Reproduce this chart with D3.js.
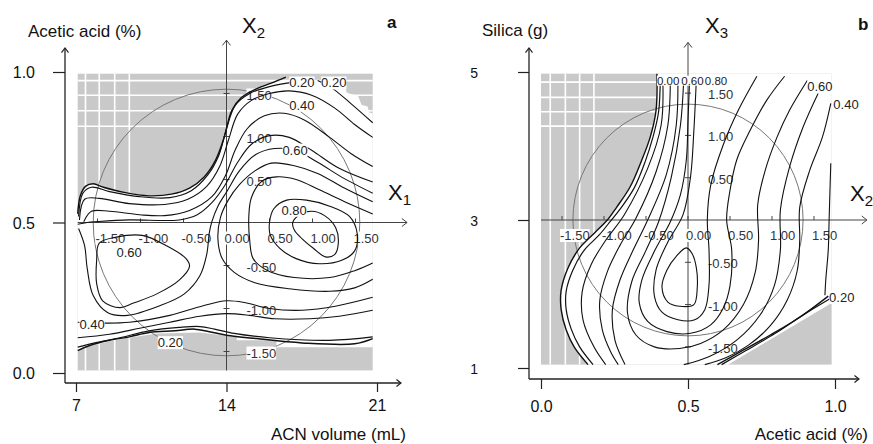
<!DOCTYPE html>
<html>
<head>
<meta charset="utf-8">
<script src="https://cdn.jsdelivr.net/npm/d3@7"></script>
<style>
  html, body { margin: 0; padding: 0; background: #fff; }
  svg { display: block; font-family: "Liberation Sans", Arial, sans-serif; }
</style>
</head>
<body>
<svg id="chart" width="873" height="444"></svg>
<script>
// ---------------- Panel a: ACN volume (X1) × acetic acid (X2), coded units ----------------
const acnTicks = [7, 14, 21];
const aceticTicksA = [0.0, 0.5, 1.0];
const codedTicksH = [-1.5, -1.0, -0.5, 0, 0.5, 1.0, 1.5];
const codedTicksV = [-1.5, -1.0, -0.5, 0.5, 1.0, 1.5];

// contour lines, [X1, X2] in coded units
const aTop1 = [[-1.73,0.10],[-1.70,0.31],[-1.64,0.42],[-1.55,0.45],[-1.43,0.41],[-1.19,0.35],[-0.90,0.31],[-0.64,0.33],[-0.43,0.40],[-0.26,0.53],[-0.13,0.72],[-0.03,0.98],[0.06,1.30],[0.17,1.45],[0.36,1.56],[0.52,1.62],[0.69,1.69]];
const aTop1b = [[-1.72,0.07],[-1.67,0.34],[-1.57,0.41],[-1.36,0.36],[-1.01,0.30],[-0.66,0.29],[-0.41,0.37],[-0.22,0.55],[-0.09,0.78],[0,1.09],[0.10,1.36],[0.27,1.50],[0.50,1.58],[0.83,1.64]];
const aTop2 = [[-1.71,0.03],[-1.65,0.27],[-1.48,0.28],[-1.13,0.22],[-0.72,0.21],[-0.45,0.27],[-0.23,0.42],[-0.08,0.65],[0.02,0.95],[0.13,1.26],[0.29,1.42],[0.50,1.50],[0.73,1.53],[0.99,1.48],[1.26,1.33],[1.49,1.14],[1.70,0.99]];
const aTop3 = [[-1.66,0.01],[-1.57,0.13],[-1.36,0.13],[-1.01,0.09],[-0.72,0.08],[-0.43,0.14],[-0.17,0.30],[-0.01,0.55],[0.10,0.84],[0.24,1.09],[0.44,1.24],[0.67,1.27],[0.91,1.19],[1.20,0.99],[1.45,0.80],[1.70,0.65]];
const aTop4 = [[-1.73,-0.02],[-1.62,0.00],[-1.50,0.01],[-1.13,0.03],[-0.55,0.03],[-0.34,0.09],[-0.17,0.23],[-0.02,0.43],[0.13,0.70],[0.29,0.91],[0.50,1.01],[0.73,0.99],[0.99,0.84],[1.31,0.63],[1.70,0.47]];
const aRight1 = [[1.06,1.65],[1.23,1.56],[1.45,1.38],[1.70,1.16]];
const aLeft1 = [[-1.72,-0.07],[-1.65,-0.27],[-1.62,-0.53],[-1.55,-0.85],[-1.38,-1.05],[-1.15,-1.08],[-0.78,-0.97],[-0.49,-0.83],[-0.31,-0.62],[-0.23,-0.37],[-0.20,-0.12],[-0.17,0.01],[-0.10,0.19],[0.01,0.37],[0.15,0.60],[0.34,0.79],[0.56,0.86],[0.80,0.84],[1.06,0.70],[1.37,0.51],[1.70,0.34]];
const aLeftOval = [[-1.48,-0.24],[-1.28,-0.17],[-0.98,-0.15],[-0.70,-0.27],[-0.47,-0.42],[-0.43,-0.51],[-0.55,-0.67],[-0.81,-0.83],[-1.09,-0.94],[-1.24,-0.99],[-1.44,-0.91],[-1.51,-0.71],[-1.51,-0.44]];
const aMid3 = [[1.70,0.24],[1.37,0.40],[1.06,0.57],[0.79,0.66],[0.52,0.69],[0.33,0.60],[0.15,0.44],[0.02,0.26],[-0.07,0.06],[-0.10,-0.19],[-0.05,-0.42],[0.09,-0.58],[0.33,-0.70],[0.73,-0.77],[1.20,-0.80],[1.49,-0.76],[1.70,-0.66]];
const aMid2 = [[1.70,0.10],[1.40,0.23],[1.08,0.38],[0.81,0.50],[0.58,0.53],[0.41,0.48],[0.29,0.29],[0.26,0.08],[0.27,-0.21],[0.31,-0.42],[0.48,-0.56],[0.79,-0.64],[1.20,-0.64],[1.49,-0.56],[1.70,-0.47]];
const aPeakRing = [[0.50,0],[0.55,0.16],[0.70,0.26],[0.93,0.26],[1.20,0.19],[1.43,0.07],[1.52,-0.13],[1.49,-0.33],[1.34,-0.44],[1.08,-0.48],[0.81,-0.42],[0.62,-0.30],[0.51,-0.15]];
const aPeakCore = [[0.77,0],[0.85,0.09],[0.99,0.13],[1.14,0.08],[1.27,-0.06],[1.30,-0.24],[1.26,-0.37],[1.15,-0.40],[1.01,-0.30],[0.88,-0.19],[0.79,-0.09]];
const aBot3 = [[-1.73,-1.16],[-1.40,-1.17],[-1.13,-1.16],[-0.66,-1.08],[-0.28,-0.97],[0,-0.91],[0.21,-0.93],[0.50,-1.00],[0.88,-1.02],[1.28,-0.97],[1.70,-0.87]];
const aBot2 = [[-1.73,-1.34],[-1.36,-1.30],[-1.01,-1.23],[-0.66,-1.16],[-0.31,-1.09],[0,-1.06],[0.27,-1.08],[0.56,-1.12],[0.97,-1.12],[1.31,-1.09],[1.70,-1.02]];
const aBot1 = [[-1.73,-1.49],[-1.59,-1.43],[-1.36,-1.37],[-1.13,-1.33],[-0.90,-1.28],[-0.60,-1.26],[-0.37,-1.24],[-0.20,-1.27],[0,-1.31],[0.35,-1.35],[0.88,-1.40],[1.49,-1.41],[1.70,-1.35]];
const aBot1b = [[-1.73,-1.45],[-1.53,-1.40],[-1.24,-1.34],[-0.90,-1.26],[-0.55,-1.22],[-0.31,-1.21],[-0.14,-1.24],[0.09,-1.29],[0.50,-1.34],[1.20,-1.37],[1.70,-1.33]];

// edge of the feasible (white) area outside the upper boundary line
const aRegionTopRight = [[0.69,1.66],[1.35,1.64],[1.40,1.51],[1.53,1.47],[1.57,1.37],[1.64,1.35],[1.66,1.28],[1.70,1.27]];
const aRegionBottom = [[1.70,-1.45],[0.58,-1.45],[0.58,-1.37],[0.12,-1.37],[0.12,-1.33],[-0.31,-1.28],[-0.81,-1.29],[-1.13,-1.34],[-1.36,-1.38],[-1.59,-1.44],[-1.73,-1.50]];
const aGrayX = [-1.73, 1.70];
const aGrayY = [-1.72, 1.73];
const aGridX = [-1.64, -1.48, -1.30, -1.13];
const aGridY = [1.65, 1.48, 1.30, 1.12];
const aRadius = 1.55;

const aLabels = [
  {t:"0.20", x:0.73, y:1.57}, {t:"0.20", x:1.10, y:1.57}, {t:"0.40", x:0.73, y:1.31},
  {t:"0.60", x:0.65, y:0.79}, {t:"0.80", x:0.64, y:0.09}, {t:"0.60", x:-1.28, y:-0.40},
  {t:"0.40", x:-1.71, y:-1.24}, {t:"0.20", x:-0.80, y:-1.45}
];

// ---------------- Panel b: acetic acid (X2) × silica (X3), coded units ----------------
const aceticTicksB = [0.0, 0.5, 1.0];
const silicaTicks = [1, 3, 5];

const bB1 = [[-0.37,1.73],[-0.38,1.30],[-0.45,0.98],[-0.55,0.71],[-0.69,0.39],[-0.85,0.15],[-0.96,0],[-1.11,-0.15],[-1.29,-0.33],[-1.43,-0.57],[-1.51,-0.83],[-1.51,-1.06],[-1.45,-1.30],[-1.35,-1.51],[-1.19,-1.71]];
const bB1b = [[-0.33,1.70],[-0.35,1.28],[-0.42,0.97],[-0.51,0.69],[-0.64,0.38],[-0.80,0.14],[-0.92,-0.01],[-1.06,-0.18],[-1.23,-0.35],[-1.37,-0.59],[-1.45,-0.84],[-1.45,-1.06],[-1.39,-1.29],[-1.29,-1.50],[-1.13,-1.71]];
const bB2 = [[-0.30,1.68],[-0.32,1.12],[-0.48,0.61],[-0.76,0.06],[-0.98,-0.24],[-1.15,-0.52],[-1.26,-0.85],[-1.25,-1.18],[-1.12,-1.50],[-0.98,-1.71]];
const bB3 = [[-0.21,1.68],[-0.24,1.12],[-0.38,0.57],[-0.62,0.02],[-0.81,-0.30],[-0.96,-0.61],[-1.05,-0.95],[-1.02,-1.30],[-0.92,-1.56],[-0.83,-1.71]];
const bB4 = [[-0.12,1.68],[-0.14,1.12],[-0.26,0.53],[-0.48,0],[-0.65,-0.35],[-0.81,-0.71],[-0.90,-1.06],[-0.87,-1.42],[-0.75,-1.71]];
const bRing3 = [[-0.05,1.68],[-0.09,1.12],[-0.20,0.50],[-0.35,-0.02],[-0.51,-0.38],[-0.67,-0.73],[-0.72,-1.10],[-0.62,-1.36],[-0.40,-1.50],[-0.10,-1.52],[0.15,-1.46],[0.42,-1.30],[0.66,-1.00],[0.80,-0.62],[0.84,-0.24],[0.83,0.18],[0.92,0.59],[1.06,0.98],[1.21,1.30],[1.42,1.65]];
const bRing2 = [[0.02,1.68],[0,1.18],[-0.02,0.71],[-0.09,0.30],[-0.21,-0.02],[-0.39,-0.35],[-0.55,-0.71],[-0.58,-0.98],[-0.48,-1.20],[-0.25,-1.32],[0.03,-1.34],[0.27,-1.24],[0.42,-1.04],[0.50,-0.78],[0.52,-0.35],[0.46,0],[0.50,0.35],[0.58,0.71],[0.74,1.06],[0.94,1.42],[1.15,1.70]];
const bRing1 = [[0.10,1.68],[0.07,1.06],[0.03,0.51],[-0.06,0.06],[-0.24,-0.26],[-0.38,-0.59],[-0.40,-0.90],[-0.31,-1.09],[-0.12,-1.18],[0.08,-1.18],[0.20,-1.06],[0.25,-0.77],[0.25,-0.35],[0.23,0],[0.27,0.41],[0.42,0.89],[0.60,1.30],[0.82,1.70]];
const bCore = [[-0.02,-0.33],[-0.14,-0.43],[-0.25,-0.59],[-0.31,-0.79],[-0.24,-0.97],[-0.10,-1.02],[0.07,-1.00],[0.11,-0.80],[0.10,-0.57],[0.05,-0.40]];
const bR4 = [[1.55,1.50],[1.37,1.10],[1.21,0.63],[1.10,0.12],[1.10,-0.35],[1.03,-0.77],[0.86,-1.12],[0.58,-1.42],[0.24,-1.62],[-0.05,-1.71]];
const bR5 = [[1.70,1.38],[1.60,0.98],[1.45,0.59],[1.33,0.15],[1.33,-0.24],[1.30,-0.60],[1.18,-0.95],[0.98,-1.25],[0.72,-1.48],[0.45,-1.63],[0.20,-1.71]];
const bR6 = [[1.70,0.67],[1.69,0.35],[1.68,0],[1.67,-0.35],[1.64,-0.71],[1.63,-0.89]];
const bLow1 = [[0.35,-1.71],[0.62,-1.56],[0.98,-1.36],[1.33,-1.15],[1.67,-0.90]];
const bLow1b = [[0.40,-1.71],[0.68,-1.55],[1.04,-1.34],[1.39,-1.11],[1.69,-0.93]];

const bRegionEdge = [[-0.37,1.73],[1.71,1.73],[1.71,-0.98],[0.48,-1.71],[-1.19,-1.71]];
const bGrayX = [-1.75, 1.71];
const bGrayY = [-1.71, 1.73];
const bGridX = [-1.64, -1.46, -1.29, -1.12];
const bGridY = [1.63, 1.45, 1.28, 1.11];
const bRadius = 1.37;

// value labels; the three crowded ones along the upper edge use a smaller face
const bLabels = [
  {t:"0.00", x:-0.37, y:1.60, small:true}, {t:"0.60", x:-0.08, y:1.60, small:true}, {t:"0.80", x:0.20, y:1.60, small:true},
  {t:"0.60", x:1.42, y:1.52}, {t:"0.40", x:1.73, y:1.31}, {t:"0.20", x:1.68, y:-0.97}
];

// ---------------- drawing ----------------
const svg = d3.select("#chart");
const fmt2 = d3.format(".2f");
const codedFmt = v => (v < 0 ? "-" : "") + fmt2(Math.abs(v));
const innerFont = 13;
const smallFont = 11.5;

function chevron(g, x, y, dir, s, color, w) {
  let pts;
  if (dir === "up") pts = [[x - s, y + s * 1.3], [x, y], [x + s, y + s * 1.3]];
  else pts = [[x - s * 1.3, y - s], [x, y], [x - s * 1.3, y + s]];
  g.append("path").attr("d", d3.line()(pts)).attr("fill", "none")
    .attr("stroke", color).attr("stroke-width", w);
}

function drawPanel(cfg) {
  const g = svg.append("g");
  const { x, y, cx, cy } = cfg;

  const smooth = d3.line().x(d => cx(d[0])).y(d => cy(d[1])).curve(d3.curveCatmullRom.alpha(0.5));
  const smoothClosed = d3.line().x(d => cx(d[0])).y(d => cy(d[1])).curve(d3.curveCatmullRomClosed.alpha(0.5));
  const poly = d3.line().x(d => cx(d[0])).y(d => cy(d[1]));

  // shaded area outside the experimental domain
  const gx0 = cx(cfg.grayX[0]), gx1 = cx(cfg.grayX[1]);
  const gy0 = cy(cfg.grayY[1]), gy1 = cy(cfg.grayY[0]);
  g.append("rect").attr("x", gx0).attr("y", gy0).attr("width", gx1 - gx0).attr("height", gy1 - gy0)
    .attr("fill", "#c9c9c9");
  cfg.gridX.forEach(v => g.append("line").attr("x1", cx(v)).attr("x2", cx(v)).attr("y1", gy0).attr("y2", gy1)
    .attr("stroke", "#fff").attr("stroke-width", 1.6));
  cfg.gridY.forEach(v => g.append("line").attr("x1", gx0).attr("x2", gx1).attr("y1", cy(v)).attr("y2", cy(v))
    .attr("stroke", "#fff").attr("stroke-width", 1.6));
  g.append("path").attr("d", poly(cfg.region) + "Z").attr("fill", "#fff");

  // design-space circle
  g.append("ellipse").attr("cx", cx(0)).attr("cy", cy(0))
    .attr("rx", cx(cfg.radius) - cx(0)).attr("ry", cy(0) - cy(cfg.radius))
    .attr("fill", "none").attr("stroke", "#777").attr("stroke-width", 1);

  // coded axes
  const axCol = "#444";
  const hx0 = cx(cfg.hAxis[0]), hx1 = cx(cfg.hAxis[1]), hy = cy(0);
  const vy0 = cy(cfg.vAxis[0]), vy1 = cy(cfg.vAxis[1]), vx = cx(0);
  g.append("line").attr("x1", hx0).attr("x2", hx1).attr("y1", hy).attr("y2", hy).attr("stroke", axCol).attr("stroke-width", 1);
  g.append("line").attr("x1", vx).attr("x2", vx).attr("y1", vy0).attr("y2", vy1).attr("stroke", axCol).attr("stroke-width", 1);
  chevron(g, hx1, hy, "right", 4, axCol, 1);
  chevron(g, vx, vy1, "up", 4, axCol, 1);
  codedTicksH.forEach(v => g.append("line").attr("x1", cx(v)).attr("x2", cx(v)).attr("y1", hy - 4).attr("y2", hy)
    .attr("stroke", axCol).attr("stroke-width", 1));
  codedTicksV.forEach(v => g.append("line").attr("x1", vx - 3).attr("x2", vx + 3).attr("y1", cy(v)).attr("y2", cy(v))
    .attr("stroke", axCol).attr("stroke-width", 1));

  const tickLbl = [];
  codedTicksH.forEach(v => tickLbl.push({ t: codedFmt(v), px: cx(v) - 2, py: hy + 20 }));
  codedTicksV.forEach(v => tickLbl.push({ t: codedFmt(v), px: vx + 20, py: cy(v) + 6 }));
  const tl = g.append("g");
  tickLbl.forEach(d => {
    const t = tl.append("text").attr("x", d.px).attr("y", d.py).attr("font-size", innerFont)
      .attr("fill", "#333").text(d.t);
    const b = t.node().getBBox();
    tl.insert("rect", "text").attr("x", b.x).attr("y", b.y + 1).attr("width", b.width).attr("height", b.height - 2).attr("fill", "#fff");
  });

  // contour lines
  cfg.lines.forEach(l => {
    g.append("path").attr("d", (l.closed ? smoothClosed : smooth)(l.pts))
      .attr("fill", "none").attr("stroke", "#111").attr("stroke-width", l.w || 1.1)
      .attr("stroke-linejoin", "round");
  });

  // contour value labels
  const cl = g.append("g");
  cfg.labels.forEach(d => {
    const t = cl.append("text").attr("x", cx(d.x)).attr("y", cy(d.y))
      .attr("font-size", d.small ? smallFont : innerFont)
      .attr("fill", "#222").text(d.t);
    const b = t.node().getBBox();
    cl.insert("rect", function () { return t.node(); })
      .attr("x", b.x).attr("y", b.y + 1).attr("width", b.width).attr("height", b.height - 2).attr("fill", "#fff");
  });

  // real-unit axes
  const ax = svg.append("g");
  const yAx = d3.axisLeft(y).tickValues(cfg.yTicks).tickSize(cfg.yTickSize).tickPadding(cfg.yPad).tickFormat(cfg.yFmt);
  const ya = ax.append("g").attr("transform", `translate(${cfg.yAxisX},0)`).call(yAx);
  ya.select(".domain").remove();
  ya.selectAll("text").attr("font-size", cfg.yFont).attr("fill", "#111").attr("font-family", "Liberation Sans, Arial, sans-serif").attr("dy", "0.36em");
  ya.selectAll("line").attr("stroke", "#222").attr("stroke-width", 1.2);

  const xAx = d3.axisBottom(x).tickValues(cfg.xTicks).tickSize(cfg.xTickSize).tickPadding(cfg.xPad).tickFormat(cfg.xFmt);
  const xa = ax.append("g").attr("transform", `translate(0,${cfg.xAxisY})`).call(xAx);
  xa.select(".domain").remove();
  xa.selectAll("text").attr("font-size", 16).attr("fill", "#111").attr("font-family", "Liberation Sans, Arial, sans-serif");
  xa.selectAll("line").attr("stroke", "#222").attr("stroke-width", 1.2);

  ax.append("line").attr("x1", cfg.yAxisX).attr("x2", cfg.yAxisX).attr("y1", cfg.xAxisY).attr("y2", cfg.axisTop)
    .attr("stroke", "#222").attr("stroke-width", 1.3);
  ax.append("line").attr("x1", cfg.yAxisX).attr("x2", cfg.axisRight).attr("y1", cfg.xAxisY).attr("y2", cfg.xAxisY)
    .attr("stroke", "#222").attr("stroke-width", 1.3);
  chevron(ax, cfg.yAxisX, cfg.axisTop, "up", 3.5, "#222", 1.2);
  chevron(ax, cfg.axisRight, cfg.xAxisY, "right", 3.5, "#222", 1.2);

  // titles
  ax.append("text").attr("x", cfg.yTitle.x).attr("y", cfg.yTitle.y).attr("font-size", 17).attr("fill", "#111").text(cfg.yTitle.t);
  ax.append("text").attr("x", cfg.xTitle.x).attr("y", cfg.xTitle.y).attr("font-size", 17).attr("fill", "#111")
    .attr("text-anchor", "end").text(cfg.xTitle.t);
  ax.append("text").attr("x", cfg.tag.x).attr("y", cfg.tag.y).attr("font-size", 17).attr("font-weight", "bold")
    .attr("fill", "#111").text(cfg.tag.t);
  cfg.factors.forEach(f => {
    const t = ax.append("text").attr("x", f.x).attr("y", f.y).attr("font-size", 22).attr("fill", "#111");
    t.append("tspan").text("X");
    t.append("tspan").attr("font-size", 15).attr("dy", 5).text(f.sub);
  });
}

// ---- panel a scales ----
const xA = d3.scaleLinear().domain([7, 21]).range([76, 377]);
const yA = d3.scaleLinear().domain([0, 1]).range([373, 72]);
const cxA = d3.scaleLinear().domain([-1.75, 1.75]).range([xA(7), xA(21)]);
const cyA = d3.scaleLinear().domain([-1.75, 1.75]).range([yA(0), yA(1)]);

drawPanel({
  x: xA, y: yA, cx: cxA, cy: cyA,
  grayX: aGrayX, grayY: aGrayY, gridX: aGridX, gridY: aGridY,
  region: aTop1.slice(0, 16).concat(aRegionTopRight, aRegionBottom),
  radius: aRadius, hAxis: [-1.73, 2.10], vAxis: [-1.72, 2.12],
  lines: [
    { pts: aTop1, w: 1.4 }, { pts: aTop1b, w: 1.2 }, { pts: aTop2 }, { pts: aTop3 }, { pts: aTop4 },
    { pts: aRight1 }, { pts: aLeft1 }, { pts: aLeftOval, closed: true },
    { pts: aMid3 }, { pts: aMid2 }, { pts: aPeakRing, closed: true }, { pts: aPeakCore, closed: true },
    { pts: aBot3 }, { pts: aBot2 }, { pts: aBot1, w: 1.5 }, { pts: aBot1b, w: 1.2 }
  ],
  labels: aLabels,
  yTicks: aceticTicksA, yTickSize: 12, yPad: 18, yFmt: d3.format(".1f"), yFont: 16,
  xTicks: acnTicks, xTickSize: 9, xPad: 8, xFmt: d3.format("d"),
  yAxisX: 65, xAxisY: 383, axisTop: 48, axisRight: 401,
  yTitle: { t: "Acetic acid (%)", x: 28, y: 37 },
  xTitle: { t: "ACN volume (mL)", x: 406, y: 440 },
  tag: { t: "a", x: 387, y: 28 },
  factors: [{ sub: "2", x: 242, y: 33 }, { sub: "1", x: 388, y: 200 }]
});

// ---- panel b scales ----
const xB = d3.scaleLinear().domain([0, 1]).range([541, 835]);
const yB = d3.scaleLinear().domain([1, 5]).range([368, 72]);
const cxB = d3.scaleLinear().domain([-1.75, 1.75]).range([xB(0), xB(1)]);
const cyB = d3.scaleLinear().domain([-1.75, 1.75]).range([yB(1), yB(5)]);

drawPanel({
  x: xB, y: yB, cx: cxB, cy: cyB,
  grayX: bGrayX, grayY: bGrayY, gridX: bGridX, gridY: bGridY,
  region: bRegionEdge.concat(bB1.slice(1, -1).reverse()),
  radius: bRadius, hAxis: [-1.75, 2.13], vAxis: [-1.71, 2.10],
  lines: [
    { pts: bB1, w: 1.4 }, { pts: bB1b, w: 1.2 }, { pts: bB2 }, { pts: bB3 }, { pts: bB4 },
    { pts: bRing3 }, { pts: bRing2 }, { pts: bRing1 }, { pts: bCore, closed: true },
    { pts: bR4 }, { pts: bR5 }, { pts: bR6 }, { pts: bLow1, w: 1.4 }, { pts: bLow1b, w: 1.2 }
  ],
  labels: bLabels,
  yTicks: silicaTicks, yTickSize: 11, yPad: 40, yFmt: d3.format("d"), yFont: 14,
  xTicks: aceticTicksB, xTickSize: 10, xPad: 12, xFmt: d3.format(".1f"),
  yAxisX: 529, xAxisY: 379, axisTop: 48, axisRight: 859,
  yTitle: { t: "Silica (g)", x: 482, y: 36 },
  xTitle: { t: "Acetic acid (%)", x: 868, y: 440 },
  tag: { t: "b", x: 858, y: 30 },
  factors: [{ sub: "3", x: 705, y: 33 }, { sub: "2", x: 850, y: 201 }]
});
</script>
</body>
</html>
